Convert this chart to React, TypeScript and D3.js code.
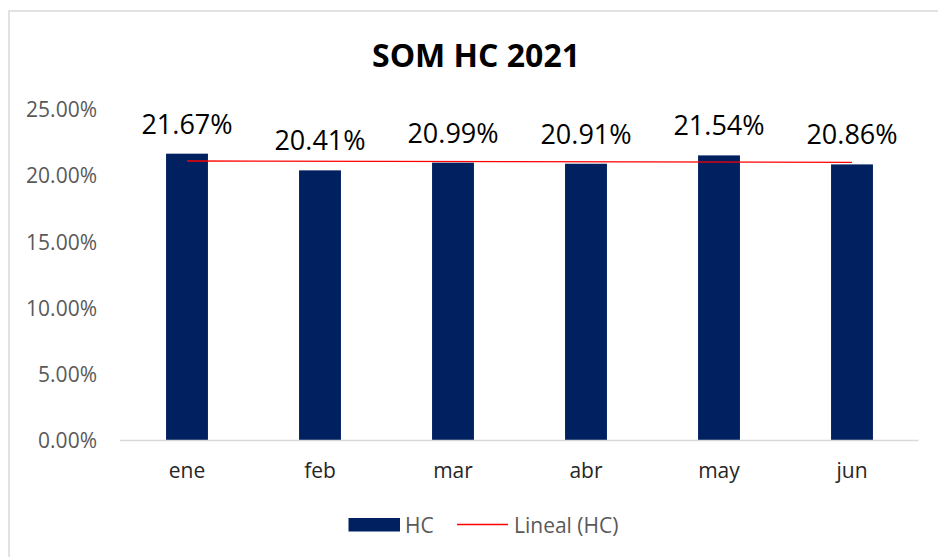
import React from "react";
import * as d3 from "d3";

const categories = ["ene", "feb", "mar", "abr", "may", "jun"];
const values = [21.67, 20.41, 20.99, 20.91, 21.54, 20.86];
const yTicks = [0, 5, 10, 15, 20, 25];
const title = "SOM HC 2021";
const seriesName = "HC";
const trendName = "Lineal (HC)";

const W = 938;
const H = 557;
const FONT = "'Open Sans', 'Noto Sans', sans-serif";

export default function App() {
  const x = d3.scaleBand<string>().domain(categories).range([120.5, 918.5]).paddingInner(0.685).paddingOuter(0.3425);
  const y = d3.scaleLinear().domain([0, 25]).range([440.5, 109.6]);

  // linear regression trend
  const n = values.length;
  const xs = values.map((_, i) => i + 1);
  const mx = d3.mean(xs) as number;
  const my = d3.mean(values) as number;
  const slope =
    d3.sum(xs.map((xi, i) => (xi - mx) * (values[i] - my))) / d3.sum(xs.map((xi) => (xi - mx) ** 2));
  const icpt = my - slope * mx;
  const trendPts: [number, number][] = [
    [(x(categories[0]) as number) + x.bandwidth() / 2, y(icpt + slope * 1)],
    [(x(categories[n - 1]) as number) + x.bandwidth() / 2, y(icpt + slope * n)],
  ];
  const line = d3.line();

  return (
    <svg width={W} height={H} style={{ position: "absolute", left: 0, top: 0, background: "#fff" }}>
      <rect x={9} y={11} width={W + 20} height={H + 20} fill="#fff" stroke="#d9d9d9" strokeWidth={1.5} />
      <text x={476} y={67} textAnchor="middle" fontFamily={FONT} fontWeight="bold" fontSize={32} fill="#000">
        {title}
      </text>
      {yTicks.map((t) => (
        <text key={t} x={97} y={y(t) + 7.7} textAnchor="end" fontFamily={FONT} fontSize={21} fill="#595959">
          {t.toFixed(2) + "%"}
        </text>
      ))}
      {categories.map((c, i) => (
        <rect
          key={c}
          x={x(c)}
          y={y(values[i])}
          width={x.bandwidth()}
          height={y(0) - y(values[i])}
          fill="#002060"
        />
      ))}
      <line x1={120} x2={918.5} y1={y(0)} y2={y(0)} stroke="#d9d9d9" strokeWidth={1.5} />
      {categories.map((c) => (
        <text
          key={c}
          x={(x(c) as number) + x.bandwidth() / 2}
          y={478}
          textAnchor="middle"
          fontFamily={FONT}
          fontSize={21}
          fill="#262626"
        >
          {c}
        </text>
      ))}
      {categories.map((c, i) => (
        <text
          key={c}
          x={(x(c) as number) + x.bandwidth() / 2}
          y={y(values[i]) - 20}
          textAnchor="middle"
          fontFamily={FONT}
          fontSize={27}
          fill="#000"
        >
          {values[i].toFixed(2) + "%"}
        </text>
      ))}
      <path d={line(trendPts) || ""} stroke="#ff0000" strokeWidth={1.3} fill="none" />
      <rect x={348.5} y={518} width={51.5} height={13.5} fill="#002060" />
      <text x={405} y={533} fontFamily={FONT} fontSize={21} fill="#595959">
        {seriesName}
      </text>
      <line x1={457} x2={508} y1={524.5} y2={524.5} stroke="#ff0000" strokeWidth={1.3} />
      <text x={514} y={533} fontFamily={FONT} fontSize={21} fill="#595959">
        {trendName}
      </text>
    </svg>
  );
}
